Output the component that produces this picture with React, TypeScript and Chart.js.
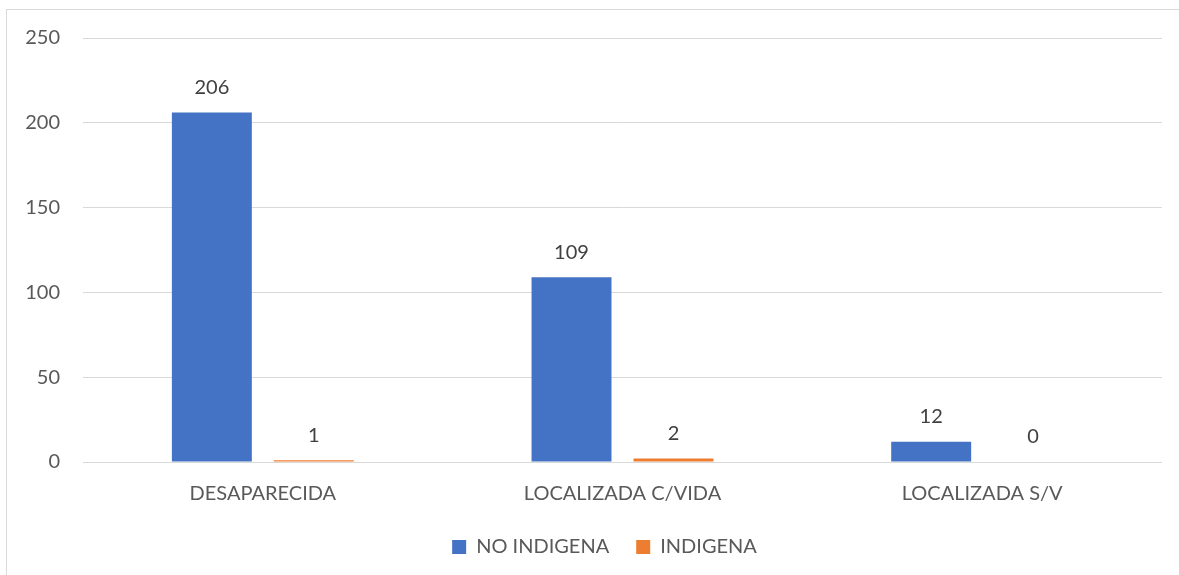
import React, { useEffect, useRef } from "react";
import { Chart, registerables } from "chart.js";

Chart.register(...registerables);

const categories = ["DESAPARECIDA", "LOCALIZADA C/VIDA", "LOCALIZADA S/V"];
const noIndigena = [206, 109, 12];
const indigena = [1, 2, 0];
const seriesNames = ["NO INDIGENA", "INDIGENA"];
const yTicks = [0, 50, 100, 150, 200, 250];

const FONT = "Lato, 'Open Sans', sans-serif";
const TEXT = "#595959";

const valueLabels = {
  id: "valueLabels",
  afterDatasetsDraw(chart: any) {
    const ctx = chart.ctx;
    ctx.save();
    ctx.font = `20px ${FONT}`;
    ctx.fillStyle = "#404040";
    ctx.textAlign = "center";
    ctx.textBaseline = "middle";
    chart.data.datasets.forEach((ds: any, i: number) => {
      const meta = chart.getDatasetMeta(i);
      meta.data.forEach((bar: any, j: number) => {
        ctx.fillText(String(ds.data[j]), bar.x, bar.y - 25);
      });
    });
    ctx.restore();
  },
};

// center the legend under the plot area rather than the whole canvas
const legendShift = {
  id: "legendShift",
  afterLayout(chart: any) {
    const lg = chart.legend;
    const ca = chart.chartArea;
    if (!lg || !ca) return;
    const w = lg.right - lg.left;
    const c = (ca.left + ca.right) / 2 - 18;
    lg.left = c - w / 2;
    lg.right = c + w / 2;
  },
};

export default function App() {
  const ref = useRef<HTMLCanvasElement>(null);
  useEffect(() => {
    if (!ref.current) return;
    const chart = new Chart(ref.current, {
      type: "bar",
      data: {
        labels: categories,
        datasets: [
          { label: seriesNames[0], data: noIndigena, backgroundColor: "#4472C4", barPercentage: 0.784, categoryPercentage: 0.567 },
          { label: seriesNames[1], data: indigena, backgroundColor: "#ED7D31", barPercentage: 0.784, categoryPercentage: 0.567 },
        ],
      },
      options: {
        responsive: false,
        animation: false,
        layout: { padding: { top: 38, right: 17, left: 0, bottom: 8 } },
        plugins: {
          legend: {
            position: "bottom",
            labels: {
              boxWidth: 14,
              boxHeight: 14,
              padding: 27,
              color: TEXT,
              font: { family: FONT, size: 20 },
            },
          },
          tooltip: { enabled: false },
        },
        scales: {
          x: {
            grid: { display: false, drawTicks: false },
            border: { display: false },
            ticks: { color: TEXT, font: { family: FONT, size: 20 }, padding: 20 },
            afterFit: (s: any) => { s.height = 48; },
          },
          y: {
            min: 0,
            max: 250,
            afterBuildTicks: (s: any) => { s.ticks = yTicks.map((v) => ({ value: v })); },
            grid: { color: "#d9d9d9", drawTicks: false, lineWidth: 1 },
            border: { display: false },
            ticks: { color: TEXT, font: { family: FONT, size: 20 }, padding: 23 },
            afterFit: (s: any) => { s.width = 83; },
          },
        },
      },
      plugins: [valueLabels, legendShift],
    });
    return () => chart.destroy();
  }, []);
  return (
    <div style={{ position: "absolute", left: 0, top: 0, width: 1179, height: 575, background: "#fff", overflow: "hidden" }}>
      <div style={{ position: "absolute", left: 6, top: 9, width: 1200, height: 600, border: "1px solid #d9d9d9" }} />
      <canvas ref={ref} width={1179} height={575} style={{ position: "absolute", left: 0, top: 0 }} />
    </div>
  );
}
